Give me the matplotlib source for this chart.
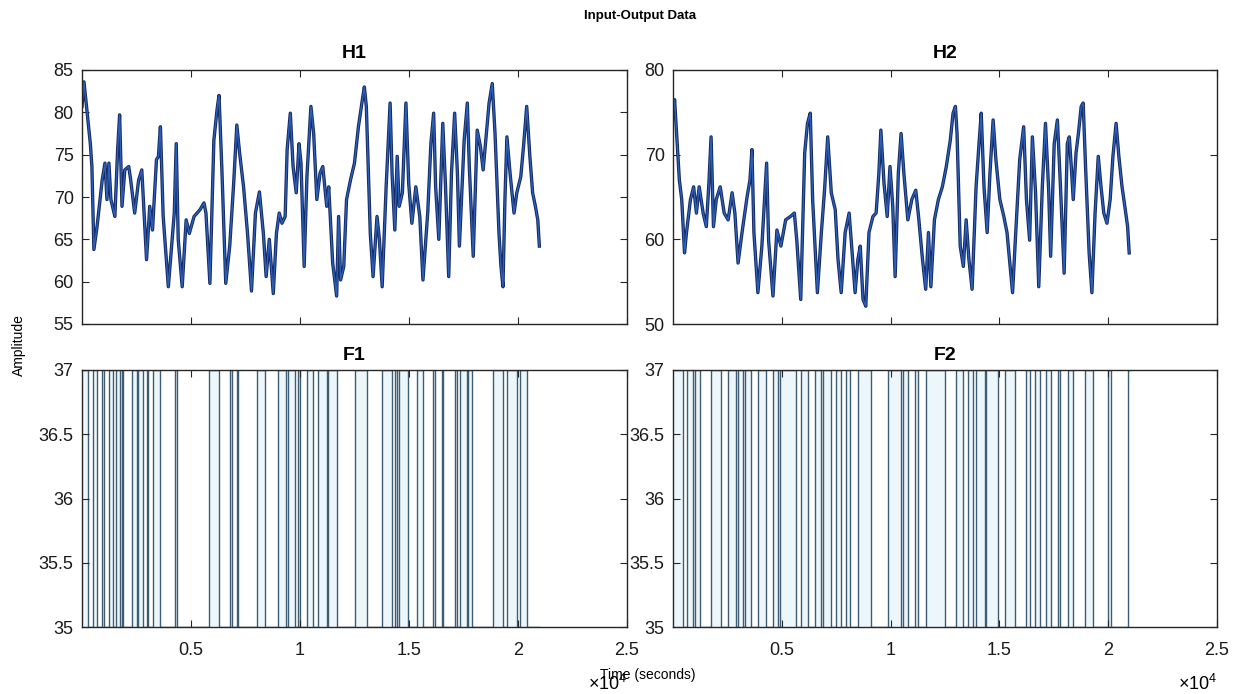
import matplotlib
matplotlib.use("Agg")
import matplotlib.pyplot as plt
import numpy as np

plt.rcParams['font.family'] = ['Liberation Sans', 'DejaVu Sans']
plt.rcParams['mathtext.fontset'] = 'custom'
plt.rcParams['mathtext.rm'] = 'Liberation Sans'

# ---------------- data ----------------
h1_time = [0, 91, 382, 454, 545, 690, 926, 1054, 1145, 1235,
           1326, 1508, 1635, 1726, 1835, 1962, 2144, 2234, 2416, 2598,
           2743, 2816, 2961, 3107, 3234, 3416, 3506, 3597, 3724, 3960,
           4233, 4323, 4414, 4596, 4778, 4923, 5141, 5413, 5595, 5686,
           5867, 6049, 6194, 6285, 6412, 6594, 6776, 6957, 7102, 7230,
           7411, 7593, 7775, 7956, 8138, 8320, 8447, 8592, 8774, 8919,
           9046, 9174, 9319, 9410, 9555, 9682, 9828, 9955, 10046, 10191,
           10318, 10500, 10627, 10772, 10918, 11045, 11226, 11317, 11499, 11681,
           11771, 11862, 12007, 12135, 12316, 12498, 12680, 12861, 12952, 13043,
           13224, 13352, 13533, 13642, 13769, 13951, 14133, 14223, 14350, 14459,
           14550, 14696, 14859, 14986, 15132, 15313, 15495, 15640, 15858, 16004,
           16131, 16222, 16367, 16549, 16676, 16821, 16948, 17094, 17221, 17312,
           17530, 17675, 17766, 17947, 18129, 18274, 18401, 18547, 18674, 18819,
           18946, 19128, 19219, 19310, 19400, 19491, 19636, 19818, 19945, 20127,
           20254, 20399, 20544, 20671, 20798, 20907, 20980]
h1_value = [80.7, 83.6, 76.3, 73.6, 63.8, 66.5, 72, 74, 69.7, 74,
            69.7, 67.7, 75.6, 79.7, 68.9, 73.2, 73.6, 72, 68.1, 72,
            73.2, 69.7, 62.6, 68.9, 66.1, 74.4, 74.8, 78.3, 67.7, 59.4,
            68.1, 76.3, 65, 59.4, 67.3, 65.7, 67.7, 68.5, 69.3, 68.1,
            59.8, 76.7, 80.3, 82, 73.6, 59.8, 64.2, 71.6, 78.5, 75.2,
            71.2, 65.7, 58.9, 68.1, 70.6, 65.7, 60.6, 65, 58.6, 65.7,
            68.1, 66.9, 67.7, 75.6, 79.9, 73.6, 70.5, 76.3, 74, 61.8,
            72.4, 80.7, 77.5, 69.7, 72.8, 73.6, 68.9, 71.2, 62.2, 58.3,
            67.7, 60.2, 61.8, 69.7, 72, 74, 78.3, 81.5, 83, 80.7,
            65.7, 60.6, 67.7, 65, 59.4, 71.2, 81.1, 72.8, 66.1, 74.8,
            68.9, 70.5, 81.1, 71.6, 66.9, 71.2, 67.7, 60.2, 68.1, 76.3,
            79.9, 71.2, 65, 78.7, 71.2, 60.6, 72.8, 79.9, 72.8, 64.2,
            76.7, 81.1, 73.6, 63, 77.9, 76, 73.2, 77.5, 81.1, 83.4,
            77.5, 65.7, 61.8, 59.4, 69.7, 77.1, 72.8, 68.1, 70.5, 72.4,
            76, 80.7, 74.8, 70.5, 68.9, 67.3, 64.2]

h2_time = [36, 73, 164, 292, 401, 529, 620, 802, 948, 1076,
           1203, 1385, 1531, 1641, 1750, 1859, 1987, 2169, 2352, 2534,
           2716, 2844, 2990, 3172, 3409, 3537, 3628, 3719, 3901, 4084,
           4302, 4393, 4594, 4776, 4959, 5177, 5396, 5578, 5688, 5870,
           6052, 6180, 6308, 6417, 6636, 6818, 6964, 7110, 7274, 7456,
           7584, 7730, 7912, 8094, 8222, 8368, 8495, 8605, 8732, 8860,
           9006, 9188, 9334, 9461, 9552, 9698, 9844, 9972, 10099, 10209,
           10355, 10482, 10610, 10792, 10975, 11157, 11284, 11467, 11613, 11740,
           11850, 12014, 12196, 12378, 12560, 12743, 12870, 12980, 13053, 13199,
           13344, 13472, 13600, 13745, 13928, 14074, 14165, 14292, 14438, 14566,
           14712, 14839, 15021, 15204, 15350, 15605, 15751, 15933, 16115, 16243,
           16389, 16516, 16662, 16808, 16972, 17118, 17264, 17355, 17519, 17665,
           17793, 17975, 18121, 18212, 18303, 18394, 18522, 18631, 18759, 18850,
           18959, 19124, 19251, 19397, 19543, 19670, 19798, 19944, 20090, 20217,
           20363, 20490, 20636, 20764, 20892, 20965]
h2_value = [75.3, 76.5, 72.5, 67, 64.7, 58.4, 60.8, 64.7, 66.2, 63.1,
            66.2, 63.1, 61.5, 66.2, 72.1, 61.5, 64.7, 66.2, 63.1, 62.3,
            65.5, 63.1, 57.2, 60.8, 65.1, 67, 70.6, 60.8, 53.7, 59.2,
            69, 59.9, 53.3, 61.1, 59.2, 62.3, 62.7, 63.1, 59.9, 52.9,
            70.2, 73.7, 74.9, 64.7, 53.7, 60.8, 65.8, 72.1, 65.5, 63.5,
            57.6, 53.7, 60.8, 63.1, 58.8, 53.7, 57.6, 59.2, 52.9, 52.1,
            60.8, 62.7, 63.1, 67.8, 72.9, 66.6, 62.7, 68.6, 63.9, 55.6,
            67.8, 72.5, 67.8, 62.3, 64.7, 65.8, 62.7, 57.6, 54.1, 60.8,
            54.4, 62.3, 64.7, 66.2, 68.6, 71.7, 74.9, 75.7, 72.5, 59.2,
            56.8, 62.3, 57.6, 54.1, 66.2, 71.7, 74.9, 66.2, 60.8, 67.8,
            74.1, 69.4, 64.7, 62.7, 60.8, 53.7, 60.8, 69.4, 73.3, 64.7,
            59.9, 72.1, 65.5, 54.4, 66.2, 73.7, 65.8, 58, 71.3, 74.1,
            67, 56, 71.3, 72.1, 68.6, 64.7, 70.2, 72.5, 75.7, 76.1,
            68.6, 58.4, 53.7, 63.1, 69.8, 66.2, 63.1, 61.9, 64.7, 69.8,
            73.7, 69.8, 66.2, 63.9, 61.5, 58.4]

# switching instants (s) of the two binary inputs, levels 37 / 35
f1_switch = [290, 489, 673, 917, 1009, 1254, 1437, 1560, 1743, 1820,
             1896, 2279, 2508, 2584, 2814, 2966, 3043, 3272, 3578, 4266,
             4342, 5840, 6300, 6789, 6865, 7095, 7171, 8012, 8394, 9006,
             9357, 9465, 9771, 9923, 10000, 10305, 10611, 10841, 11223, 11300,
             11682, 12523, 13058, 13746, 14205, 14358, 14434, 14557, 14970, 15350,
             15660, 16120, 16190, 16500, 16575, 17110, 17190, 17340, 17650, 17720,
             17880, 18870, 19330, 19480, 19940, 20100, 20400]
f2_switch = [460, 659, 919, 996, 1226, 1762, 2221, 2528, 2911, 2987,
             3217, 3294, 3600, 3907, 4290, 4596, 4826, 4902, 5668, 5898,
             6205, 6511, 6817, 6894, 7277, 7507, 7737, 7966, 8120, 8503,
             9115, 9881, 10494, 10571, 10801, 11107, 11260, 11643, 12486, 13022,
             13328, 13558, 13788, 13941, 14324, 14401, 14937, 15243, 15703, 16239,
             16392, 16622, 16852, 17158, 17388, 17695, 17771, 18154, 18384, 18920,
             19303, 19993, 20146, 20912]
t_start, t_end = 0, 21000
f_high, f_low = 37, 35

titles = ['H1', 'H2', 'F1', 'F2']
xtick_vals = [5000, 10000, 15000, 20000, 25000]
xtick_labels = ['0.5', '1', '1.5', '2', '2.5']
h1_yticks = [55, 60, 65, 70, 75, 80, 85]
h2_yticks = [50, 60, 70, 80]
f_yticks = [35, 35.5, 36, 36.5, 37]
f_yticklabels = ['35', '35.5', '36', '36.5', '37']

# ---------------- figure ----------------
W, H = 1233, 694
fig = plt.figure(figsize=(W / 100, H / 100), dpi=100)

def px_axes(x0, y0, x1, y1):
    return fig.add_axes([x0 / W, 1 - y1 / H, (x1 - x0) / W, (y1 - y0) / H])

ax_h1 = px_axes(82, 70, 627, 324)
ax_h2 = px_axes(673, 70, 1217, 324)
ax_f1 = px_axes(82, 370, 627, 627)
ax_f2 = px_axes(673, 370, 1217, 627)

edge = '#262626'
for ax in (ax_h1, ax_h2, ax_f1, ax_f2):
    ax.set_xlim(0, 25000)
    ax.set_xticks(xtick_vals)
    for s in ax.spines.values():
        s.set_color(edge)
        s.set_linewidth(1.0)
    ax.tick_params(direction='in', top=True, right=True, length=5, width=0.8,
                   color=edge, labelsize=13, labelcolor='#1a1a1a', pad=6)
    ax.tick_params(axis='x', pad=11)

for ax, t, v, yt, title in ((ax_h1, h1_time, h1_value, h1_yticks, titles[0]),
                            (ax_h2, h2_time, h2_value, h2_yticks, titles[1])):
    ax.plot(t, v, color='#142a60', lw=2.4)
    ax.plot(t, v, color='#2d5fb8', lw=1.0)
    ax.set_ylim(yt[0], yt[-1])
    ax.set_yticks(yt)
    ax.set_xticklabels([])
    ax.set_title(title, fontsize=14, fontweight='bold', pad=9)

for ax, sw, title in ((ax_f1, f1_switch, titles[2]), (ax_f2, f2_switch, titles[3])):
    edges = [t_start] + list(sw) + [t_end]
    levels = [f_high if i % 2 == 0 else f_low for i in range(len(edges) - 1)]
    ax.stairs(levels, edges, baseline=f_low, fill=True, color='#edf7fb', lw=0)
    ax.stairs(levels, edges, baseline=None, color='#3e5d75', lw=1.0)
    ax.set_ylim(f_low, f_high)
    ax.set_yticks(f_yticks)
    ax.set_yticklabels(f_yticklabels)
    ax.set_xticklabels(xtick_labels)
    ax.set_title(title, fontsize=14, fontweight='bold', pad=7)

fig.text(640 / W, 1 - 16 / H, 'Input-Output Data', ha='center', va='center',
         fontsize=9.5, fontweight='bold')
fig.text(19 / W, 1 - 345 / H, 'Amplitude', ha='center', va='center',
         rotation=90, fontsize=10)
fig.text(648 / W, 1 - 675 / H, 'Time (seconds)', ha='center', va='center',
         fontsize=10)
for xr in (627, 1217):
    fig.text(xr / W, 1 - 694 / H, r'$\times\mathregular{10^{4}}$', ha='right',
             va='bottom', fontsize=13)

fig.savefig('out.png', dpi=100)
